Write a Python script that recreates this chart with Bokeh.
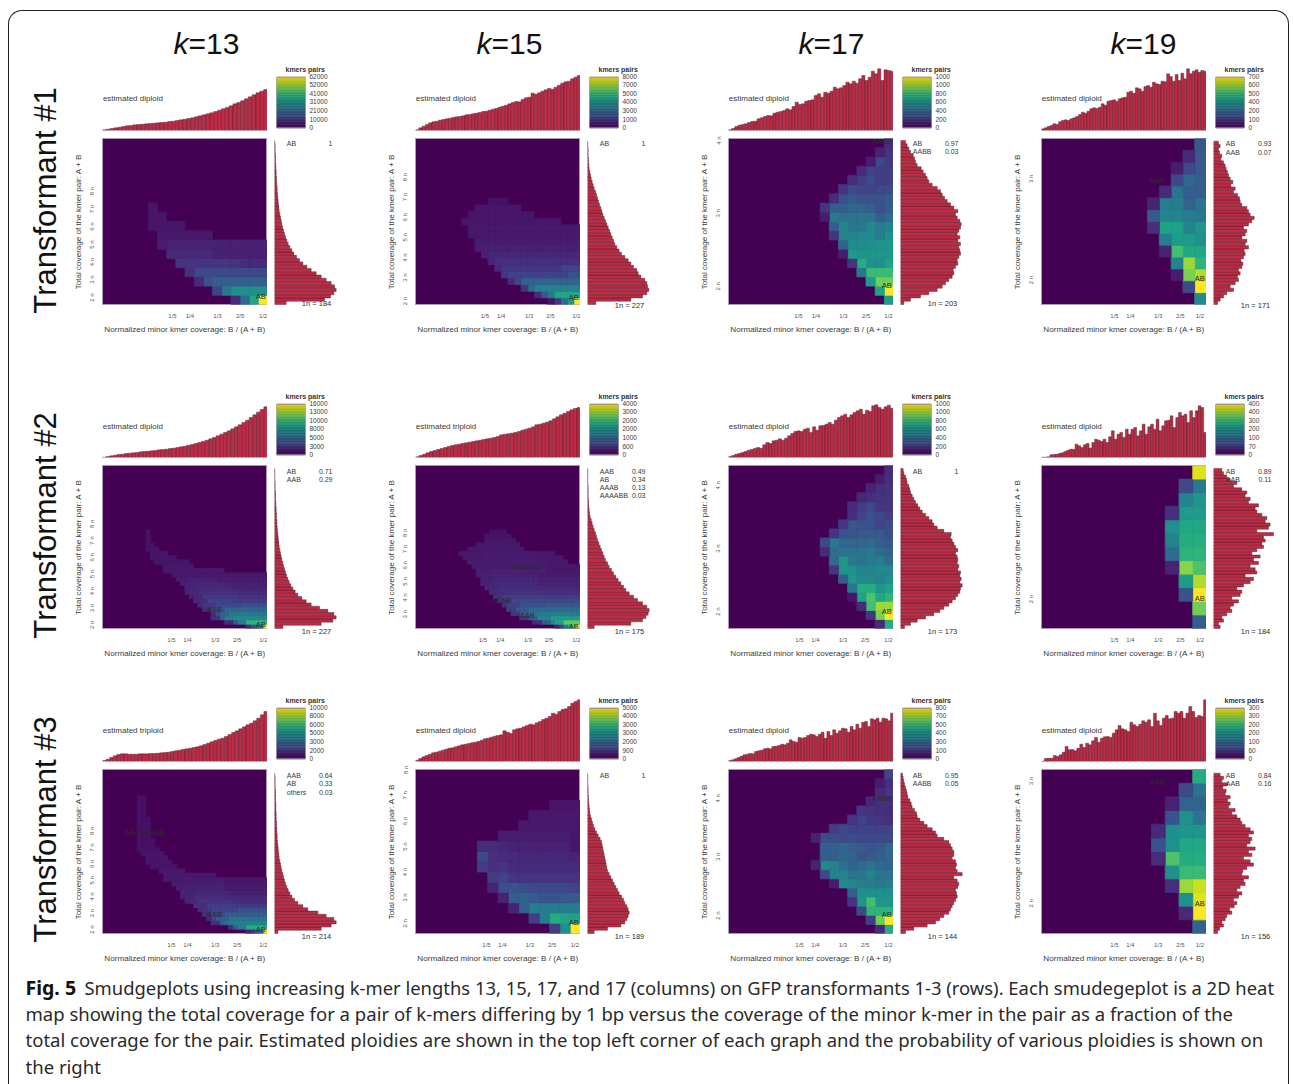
import math
from bokeh.plotting import figure
from bokeh.layouts import column, row
from bokeh.embed import file_html
from bokeh.resources import INLINE
from bokeh.models import FixedTicker, LinearColorMapper, ColumnDataSource, Title
from bokeh.palettes import Viridis256, viridis
from bokeh.core.properties import value
from bokeh.transform import transform

FONT = "Liberation Sans"
k_labels = ["13", "15", "17", "19"]
row_labels = ["Transformant #1", "Transformant #2", "Transformant #3"]
caption_lines = [
    "Smudgeplots using increasing k-mer lengths 13, 15, 17, and 17 (columns) on GFP transformants 1-3 (rows). Each smudegeplot is a 2D heat",
    "map showing the total coverage for a pair of k-mers differing by 1 bp versus the coverage of the minor k-mer in the pair as a fraction of the",
    "total coverage for the pair. Estimated ploidies are shown in the top left corner of each graph and the probability of various ploidies is shown on",
    "the right",
]

# ---- heat cells: each row (bottom to top) is listed from the right-hand column leftwards
heat_t1_k13 = [
    [100,60,35,12],
    [50,50,50,50,40,20],
    [30,30,30,30,30,30,25,12],
    [22]*8+[14],
    [12]*3+[15]*7,
    [9]*6+[12]*5,
    [9]*6+[10]*5+[8],
    [0]*6+[7]*6,
    [0]*9+[6]*4,
    [0]*11+[6]*2,
    [0]*12+[6],
]
heat_t1_k15 = [
    [100,55,35,15,5],
    [60,60,60,60,40,28,12],
    [45]*7+[35,15],
    [32]*9+[22,12],
    [25,25]+[20]*9+[15],
    [20]*3+[16]*9+[12],
    [14]*13+[10],
    [11]*14+[9],
    [9]*15+[8],
    [8]*16,
    [7]*17,
    [7]*17,
    [0]*3+[6]*15,
    [0]*7+[6]*10,
    [0]*9+[6]*7,
    [0]*11+[5]*3,
]
heat_t1_k17 = [
    [55],
    [100,58],
    [78,78,55],
    [68,68,68,40],
    [58,50,50,62,15],
    [52,52,52,52,55,8],
    [52,52,50,48,48,32,0],
    [50,42,48,48,45,45,15],
    [44,42,47,40,40,45,30],
    [35,30,38,38,38,38,40,8],
    [30,25,30,33,33,30,30,15],
    [28,25,25,25,28,25,13],
    [22,22,20,20,24,15],
    [18,18,22,18,13],
    [18,18,20,12],
    [17,22,8],
    [15,10],
    [14],
]
heat_t1_k19 = [
    [48],
    [100,22],
    [88,80,8],
    [65,85,45],
    [60,60,70,10],
    [50,55,55,42],
    [52,45,58,58,14],
    [40,42,45,45,28],
    [38,32,42,42,10],
    [30,30,38,12],
    [30,33,22],
    [28,22,8],
    [28,12],
    [27],
]
heat_t2_k13 = [
    [100,40,30,22,12],
    [65]*5+[42]*2+[25]+[12]*2,
    [48]*8+[42]*2+[30]+[14]*2,
    [40]*9+[32]*2+[22,12],
    [33]*10+[25]*3+[13]*2,
    [25]*6+[22]*6+[16]*3+[12],
    [18]*8+[20]*6+[12]*3,
    [15]*7+[17]*8+[12]*2+[9],
    [12]*7+[14]*9+[11]*2+[9],
    [10]*8+[12]*8+[10]*3,
    [9]*10+[11]*7+[9]*3,
    [8]*12+[10]*6+[8]*3,
    [7]*22,
    [0]*10+[7]*14,
    [0]*17+[7]*7,
    [0]*18+[6]*8,
    [0]*21+[6]*6,
    [0]*23+[6]*4,
    [0]*25+[6]*3,
    [0]*26+[5]*2,
    [0]*27+[5],
    [0]*27+[5],
    [0]*27+[5],
]
heat_t2_k15 = [
    [100,75,60,40,20,10],
    [75]*4+[58]*2+[45]+[28]*2+[12]*2,
    [55]*7+[45]*3+[30]*2+[14]*2,
    [42]*9+[38]*3+[28]*2+[16]*2,
    [35]*12+[28]*3+[18]*2,
    [28]*8+[25]*6+[20]*3+[14],
    [22]*16+[16]*3,
    [18]*18+[14]*2,
    [14]*9+[15]*9+[13]*3,
    [12]*10+[13]*9+[11]*3,
    [10]*10+[12]*10+[10]*3,
    [9]*10+[11]*10+[9]*3,
    [8]*10+[10]*10+[9]*4,
    [7]*8+[9]*13+[8]*3,
    [7]*8+[8]*17,
    [0]*3+[7]*5+[8]*18,
    [0]*4+[7]*6+[8]*13+[7]*4,
    [0]*6+[7]*5+[8]*12+[7]*5,
    [0]*13+[7]*13,
    [0]*14+[7]*10,
    [0]*15+[7]*7,
    [0]*16+[6]*6,
    [0]*17+[5]*4,
]
heat_t2_k17 = [
    [62,12],
    [100,80,15],
    [85,85,70,12],
    [65,60,72,58,6],
    [58,52,62,62,40],
    [50,45,48,48,52,30],
    [47,48,45,45,50,53,15],
    [35,42,42,38,40,52,35],
    [32,35,40,38,38,38,36,12],
    [27,30,35,33,33,33,40,22],
    [24,28,28,28,26,25,15],
    [22,20,25,25,28,16],
    [18,22,25,20,13],
    [15,16,22,18,12],
    [15,15,14,11],
    [15,14,10],
    [14,8],
    [12],
]
heat_t2_k19 = [
    [30],
    [78],
    [100,25],
    [88,55],
    [72,82,10],
    [65,65,35],
    [62,62,45],
    [60,60,50],
    [55,55,14],
    [52,45],
    [40,22],
    [95],
]
heat_t3_k13 = [
    [100,35,28,14,10],
    [62]*5+[42]*2+[30,14],
    [45]*8+[40]*2+[32]+[14]*2,
    [38]*9+[30]*3+[20,12],
    [30]*10+[22]*3+[13]*2,
    [25]*7+[20]*6+[15]*2+[12],
    [17]*8+[18]*6+[13]*3,
    [13]*8+[15]*8+[12]*2+[9],
    [11]*9+[13]*8+[10]*2+[9],
    [9]*9+[11]*8+[10]*3,
    [8]*10+[10]*8+[9]*3,
    [7]*10+[9]*9+[8]*3,
    [6]*10+[8]*10+[7]*4,
    [0]*12+[7]*12,
    [0]*19+[7]*6,
    [0]*21+[6]*6,
    [0]*22+[6]*6,
    [0]*23+[6]*5,
    [0]*24+[6]*5,
    [0]*25+[5]*5,
    [0]*26+[5]*4,
    [0]*26+[5]*4,
    [0]*27+[5]*3,
    [0]*27+[5]*3,
    [0]*27+[5]*3,
    [0]*27+[5]*3,
    [0]*27+[5]*3,
    [0]*28+[5]*2,
    [0]*28+[5]*2,
    [0]*28+[5]*2,
    [0]*28+[5]*2,
    [0]*28+[5]*2,
]
heat_t3_k15 = [
    [100,50,18],
    [58,58,62,42,18],
    [42,42,42,42,42,30,10],
    [28,28,26,26,28,32,30,10],
    [20,22,22,22,22,24,25,24,10],
    [15,15,15,15,15,15,15,20,18],
    [12,12,12,12,12,12,12,15,14,18],
    [10,11,11,11,11,11,12,12,14,22],
    [6,9,9,9,9,10,10,11,13,13],
    [6,8,8,8,8,8,8,8],
    [7,7,7,7,7,7],
    [7,7,7,7,7],
    [6,6,6],
]
heat_t3_k17 = [
    [62,12],
    [100,78,18],
    [65,65,65,22],
    [52,52,70,52,15],
    [50,50,50,50,30],
    [42,40,42,42,46,48,8],
    [38,38,45,38,38,45,45,22],
    [32,35,38,35,32,36,45,48,10],
    [33,30,28,26,32,33,30,30],
    [33,28,26,28,30,33,30,30],
    [22,22,22,22,24,22,24,24,9],
    [20,20,20,20,20,22,18],
    [14,16,16,20,16],
    [13,14,15,16],
    [14,14,11],
    [16,12],
    [14,8],
    [20],
]
heat_t3_k19 = [
    [32],
    [100,12],
    [95,50],
    [92,85,14],
    [68,68,50],
    [62,62,72,13],
    [60,60,50,25],
    [52,52,50,12],
    [38,50,25],
    [32,32,10],
    [38,22],
    [62],
]

# ---- histogram above each heat map, left to right
top_t1_k13 = [2,4,6,8,10,12,14,15,17,18,19,20,21,22,23,24,25,27,28,30,32,34,36,38,41,44,47,50,53,57,61,65,69,74,80,84,89,95,101,107,113,118,123]
top_t1_k15 = [2,8,13,18,23,26,28,31,33,35,37,39,41,42,44,47,48,50,52,54,57,58,61,64,66,70,73,76,80,84,87,86,93,98,100,112,109,113,118,122,126,124,130,136,142,146,148,155,160,165]
top_t1_k17 = [2,6,12,16,18,20,24,27,28,35,38,42,45,44,52,55,57,60,65,62,72,85,78,80,88,90,92,105,110,100,115,112,118,130,125,128,135,145,140,148,142,155,165,150,160,178,170,185,150,182,180,178]
top_t1_k19 = [5,8,12,15,20,18,26,30,32,30,35,38,42,48,55,52,58,65,68,66,70,80,76,88,90,92,88,95,98,100,115,118,112,128,125,118,132,135,130,145,140,138,148,146,170,162,148,168,150,172,155,185,170,178,182,175,180,178]
top_t2_k13 = [1,3,5,7,9,10,12,13,14,15,17,18,19,20,21,23,24,25,27,28,30,32,34,37,39,42,45,48,52,56,60,65,70,75,80,86,92,98,105,112,120,128,136,144,152]
top_t2_k15 = [2,6,10,14,18,21,24,27,30,33,36,38,40,42,44,46,48,50,52,54,56,58,60,63,68,70,71,73,75,78,82,85,88,92,98,100,103,106,110,116,122,128,133,138,143,147,150]
top_t2_k17 = [3,6,10,12,15,18,22,24,27,30,28,38,45,42,50,52,56,52,58,65,72,78,80,78,85,88,75,92,82,95,96,100,105,100,112,120,125,130,120,128,135,140,145,130,142,138,155,158,150,145,152,157,148]
top_t2_k19 = [1,1,2,8,9,10,12,14,18,22,25,24,40,35,30,38,42,28,45,55,52,48,55,45,62,80,55,70,75,60,85,70,85,90,65,80,100,70,92,100,85,115,80,95,110,112,125,90,120,135,125,130,105,140,120,140,155,150,75]
top_t3_k13 = [3,7,12,17,21,23,23,22,22,22,23,23,23,24,24,25,26,27,28,30,32,34,36,38,40,42,44,47,51,55,59,63,67,70,75,81,87,92,98,104,110,115,122,130,140,150]
top_t3_k15 = [4,9,14,18,22,26,28,31,34,37,40,41,44,47,50,52,54,56,58,60,64,68,70,73,76,78,80,92,88,84,95,98,100,104,108,112,110,116,120,126,130,135,145,142,150,156,158,165,175,180,185]
top_t3_k17 = [3,5,8,12,16,20,22,24,23,30,32,34,38,40,38,45,46,48,52,50,55,65,60,58,72,70,72,78,82,80,75,82,88,70,90,78,95,85,92,100,98,88,105,95,112,100,118,120,105,128,125,130,118,130,128,122,145]
top_t3_k19 = [1,9,10,10,18,15,20,28,45,35,36,32,40,52,42,55,50,62,72,58,70,74,75,72,85,95,108,98,95,90,118,110,105,112,122,118,125,105,145,122,108,130,138,128,130,150,145,150,130,145,165,150,132,138,135,185]

# ---- histogram right of each heat map, bottom to top
side_t1_k13 = [35,150,168,178,185,180,170,155,140,125,110,97,85,75,66,58,52,46,41,37,33,30,27,24,22,20,18,16,14,13,12,11,10,9,8,8,7,6,6,5,5,4,4,3,3,3,2,2,2,1]
side_t1_k15 = [25,130,165,178,184,180,178,172,160,152,148,138,130,122,112,102,95,88,82,78,74,70,66,62,58,54,50,46,43,40,36,33,30,27,24,20,17,14,11,9,7,5,4,3,3,2,2,2,1,1]
side_t1_k17 = [10,30,60,85,110,125,135,145,155,160,158,165,172,170,175,180,178,175,180,172,178,170,175,180,182,178,170,165,172,160,150,140,132,125,120,110,95,85,80,75,68,62,50,45,42,38,30,25,20,15]
side_t1_k19 = [12,20,30,40,60,50,65,75,72,80,75,85,88,82,90,95,92,105,95,100,85,95,100,90,105,115,122,110,105,100,85,80,78,72,60,65,52,58,50,45,42,38,35,30,22,25,18,15,20,15]
side_t2_k13 = [25,140,175,185,178,160,135,110,95,82,70,62,55,49,44,40,36,33,30,27,25,22,20,18,16,14,13,12,11,10,9,8,7,7,6,6,5,5,4,4,3,3,3,2,2,2,1,1,1,1]
side_t2_k15 = [20,130,165,175,182,185,178,165,150,138,125,115,108,100,92,85,78,72,65,60,54,50,46,42,38,34,30,27,24,20,17,14,11,8,6,5,4,3,3,2,2,2,2,1,1,1,1,1]
side_t2_k17 = [12,30,50,75,100,118,130,145,155,165,172,178,180,185,178,182,178,180,172,175,170,172,170,165,172,165,160,155,150,152,130,110,100,95,85,75,65,58,52,45,40,35,30,28,25,20,18,15,10,8]
side_t2_k19 = [20,15,30,25,40,55,50,60,75,55,80,85,70,90,110,120,95,130,125,110,135,120,140,115,130,150,145,155,150,180,130,165,170,155,160,145,130,125,135,105,110,95,100,85,60,70,50,40,30,25]
side_t3_k13 = [10,140,170,185,178,155,130,100,85,70,60,52,46,41,37,33,30,27,25,22,20,18,16,14,13,12,11,10,9,8,8,7,7,6,6,5,5,5,4,4,4,3,3,3,3,2,2,2,2,1]
side_t3_k15 = [20,60,100,112,118,122,125,122,118,112,108,102,95,90,85,80,75,70,65,60,58,56,54,52,50,48,46,44,42,38,32,27,22,18,15,12,9,7,6,5,4,3,3,2,2,2,1,1,1,1]
side_t3_k17 = [15,40,80,105,118,130,145,150,155,160,165,170,168,165,172,175,170,160,185,170,165,168,165,155,160,160,155,150,145,130,110,105,95,80,70,58,50,48,42,35,32,28,22,20,18,15,12,10,8,6]
side_t3_k19 = [12,18,30,25,35,40,55,48,62,70,60,75,85,70,80,95,90,105,85,88,100,120,110,90,115,105,125,100,110,115,105,120,110,95,85,80,70,55,65,45,50,42,50,35,38,28,42,25,30,20]

# ---- colour-bar labels, top to bottom
bar_t1 = [["62000","52000","41000","31000","21000","10000","0"],["8000","7000","5000","4000","3000","1000","0"],
          ["1000","1000","800","600","400","200","0"],["700","600","500","400","200","100","0"]]
bar_t2 = [["16000","13000","10000","8000","5000","3000","0"],["4000","3000","2000","2000","1000","600","0"],
          ["1000","1000","800","600","400","200","0"],["400","400","300","200","100","70","0"]]
bar_t3 = [["10000","8000","6000","5000","3000","2000","0"],["5000","4000","3000","3000","2000","900","0"],
          ["800","700","500","400","300","100","0"],["300","300","200","200","100","60","0"]]

ploidy = [["diploid"]*4, ["diploid","triploid","diploid","diploid"], ["triploid","diploid","diploid","diploid"]]
one_n = [[184,227,203,171],[227,175,173,184],[214,189,144,156]]
probs = [
    [[("AB","1")],[("AB","1")],[("AB","0.97"),("AABB","0.03")],[("AB","0.93"),("AAB","0.07")]],
    [[("AB","0.71"),("AAB","0.29")],[("AAB","0.49"),("AB","0.34"),("AAAB","0.13"),("AAAABB","0.03")],[("AB","1")],[("AB","0.89"),("AAB","0.11")]],
    [[("AAB","0.64"),("AB","0.33"),("others","0.03")],[("AB","1")],[("AB","0.95"),("AABB","0.05")],[("AB","0.84"),("AAB","0.16")]],
]
x_tick_labels = ["1/5","1/4","1/3","2/5","1/2"]

heats = [[heat_t1_k13,heat_t1_k15,heat_t1_k17,heat_t1_k19],[heat_t2_k13,heat_t2_k15,heat_t2_k17,heat_t2_k19],[heat_t3_k13,heat_t3_k15,heat_t3_k17,heat_t3_k19]]
tops = [[top_t1_k13,top_t1_k15,top_t1_k17,top_t1_k19],[top_t2_k13,top_t2_k15,top_t2_k17,top_t2_k19],[top_t3_k13,top_t3_k15,top_t3_k17,top_t3_k19]]
sides = [[side_t1_k13,side_t1_k15,side_t1_k17,side_t1_k19],[side_t2_k13,side_t2_k15,side_t2_k17,side_t2_k19],[side_t3_k13,side_t3_k15,side_t3_k17,side_t3_k19]]
bars = [bar_t1, bar_t2, bar_t3]

# ---- layout/styling (positions below are in zoomed reference units, three per screen pixel)
grid_size = [[18,25,18,14],[38,38,18,12],[38,16,18,12]]
row_count = [[18,25,18,14],[38,38,18,12],[38,16,18,12]]
panel_top = [[227,225,227,225],[224,224,224,224],[222,222,222,222]]
panel_bot = [[728,720,728,720],[716,716,716,716],[716,716,716,716]]
x_ticks = [[[305,357,440,508,577],[303,352,436,500,582],[305,357,440,508,575],[314,362,445,512,570]],
           [[302,350,433,499,586],[297,349,432,495,583],[308,356,438,505,575],[314,362,445,512,570]],
           [[302,350,433,499,586],[308,356,438,505,573],[308,356,438,505,575],[314,362,445,512,570]]]
y_ticks = [[[707,653,600,547,493,440,386],[710,640,580,520,460,400,340],[673,453,233],[647,345]],
           [[705,654,603,552,501,451,400],[None,673,623,574,525,476,427],[665,475,284],[627]],
           [[704,655,605,556,506,457,407],[685,608,531,454,377,300,223],[662,485,309],[625,257]]]
heat_text = [[[("AB",570,705)],[("AB",570,700)],[("AABB",555,235),("AB",570,672)],[("AAB",440,350),("AB",570,643)]],
             [[("AAB",430,660),("AB",570,703)],[("AAAABB",428,531),("AAAB",350,630),("AAB",430,677),("AB",570,710)],[("AB",570,665)],[("AB",570,625)]],
             [[("AAAAAAAB",220,413),("AAB",430,660),("AB",570,703)],[("AB",570,683)],[("AABB",555,308),("AB",570,658)],[("AAB",443,260),("AB",570,625)]]]
hist_zero = [205, 200, 200]
frame_h = [166, 163, 164]
gap_above = [0, 51, 31]

BG = "#440154"
RED = "#bd2c46"
EDGE = "#3c1a22"
TXT = "#3a3a3a"
mapper = LinearColorMapper(palette=Viridis256, low=0, high=100)


def dim(hex_color, f=0.86):
    rgb = [int(hex_color[k:k + 2], 16) for k in (1, 3, 5)]
    return "#%02x%02x%02x" % tuple(int(c * f) for c in rgb)


band_colors = [dim(c) for c in viridis(32)]


def base(w, h, l=0, r=0, t=0, b=0, xr=(0, 1), yr=(0, 1), **kw):
    p = figure(width=w, height=h, x_range=xr, y_range=yr, toolbar_location=None, output_backend="svg",
               min_border_left=l, min_border_right=r, min_border_top=t, min_border_bottom=b,
               x_axis_location=kw.pop("xloc", None), y_axis_location=kw.pop("yloc", None), **kw)
    p.frame_align = False
    p.grid.visible = False
    p.outline_line_color = None
    p.background_fill_color = None
    p.border_fill_color = None
    return p


def put(p, x, y, s, size, color=TXT, align="left", style="normal", angle=0, font=FONT):
    p.text(x=[x], y=[y], text=[s], text_font=value(font), text_font_size=size, text_color=color,
           text_align=align, text_baseline="middle", text_font_style=style, angle=angle)


def top_panel(i, j):
    vals = tops[i][j]
    n = len(vals)
    p = base(197, 74, l=32, t=4, b=4, xr=(-0.5, n - 0.5), yr=(0, 198))
    p.vbar(x=list(range(n)), top=vals, bottom=0, width=1.0, fill_color=RED, line_color=EDGE, line_width=0.4)
    put(p, -0.4, hist_zero[i] - 108, "estimated " + ploidy[i][j], "8px")
    return p


def bar_panel(i, j):
    labels = bars[i][j]
    p = base(116, 74, l=9, r=78, t=15, b=5, xr=(0, 1), yr=(-5, 155), yloc="right")
    h = 150 / len(band_colors)
    p.quad(left=0, right=1, bottom=[k * h for k in range(32)], top=[(k + 1) * h for k in range(32)],
           fill_color=band_colors, line_color=band_colors, line_width=0.6)
    p.quad(left=[0], right=[1], bottom=[0], top=[150], fill_color=None, line_color="#8f8599", line_width=1)
    positions = [153, 128, 102, 77, 52, 26, 0]
    ax = p.yaxis[0]
    ax.ticker = FixedTicker(ticks=positions)
    ax.major_label_overrides = {t: s for t, s in zip(positions, labels)}
    ax.axis_line_color = None
    ax.major_tick_line_color = None
    ax.minor_tick_line_color = None
    ax.major_tick_out = 0
    ax.major_tick_in = 0
    ax.major_label_text_font = FONT
    ax.major_label_text_font_size = "6.5px"
    ax.major_label_text_color = TXT
    ax.major_label_text_align = "center"
    ax.major_label_standoff = 4
    p.title = Title(text="kmers pairs", align="left", offset=9, text_font=FONT, text_font_size="7px",
                    text_font_style="bold", text_color="#333333", standoff=5)
    return p


def heat_panel(i, j):
    top_z, bot_z = panel_top[i][j], panel_bot[i][j]
    H = bot_z - top_z
    cols, nrows = grid_size[i][j], row_count[i][j]
    cw, ch = 495 / cols, H / nrows
    xs0, xs1, ys0, ys1, vs = [], [], [], [], []
    for r, cells in enumerate(heats[i][j]):
        for c, v in enumerate(cells):
            if v > 0:
                xs1.append(495 - c * cw); xs0.append(495 - (c + 1) * cw)
                ys0.append(r * ch); ys1.append(min(H, (r + 1) * ch)); vs.append(v)
    src = ColumnDataSource(dict(l=xs0, r=xs1, b=ys0, t=ys1, v=vs))
    p = base(197, frame_h[i] + 36, l=32, t=4, b=32, xr=(0, 495), yr=(0, H), xloc="below", yloc="left")
    p.background_fill_color = BG
    p.outline_line_color = "#a99bb8"
    p.outline_line_width = 1
    p.quad(left="l", right="r", bottom="b", top="t", source=src, fill_color=transform("v", mapper),
           line_color=transform("v", mapper), line_width=0.8)
    for s, zx, zy in heat_text[i][j]:
        put(p, zx - 95, bot_z - zy, s, "7.5px", color="#2c2c2c", align="center")
    xt = [z - 95 for z in x_ticks[i][j]]
    yz = y_ticks[i][j]
    yt = [bot_z - z for z in yz if z is not None]
    yl = [f"{k + 2} n" for k, z in enumerate(yz) if z is not None]
    xa, ya = p.xaxis[0], p.yaxis[0]
    xa.ticker = FixedTicker(ticks=xt)
    xa.major_label_overrides = {t: s for t, s in zip(xt, x_tick_labels)}
    ya.ticker = FixedTicker(ticks=yt)
    ya.major_label_overrides = {t: s for t, s in zip(yt, yl)}
    ya.major_label_orientation = "vertical"
    xa.axis_label = "Normalized minor kmer coverage: B / (A + B)"
    ya.axis_label = "Total coverage of the kmer pair: A + B"
    for ax, s1, s2 in ((xa, 8, 3), (ya, 7, 4)):
        ax.axis_line_color = None
        ax.major_tick_line_color = None
        ax.minor_tick_line_color = None
        ax.major_tick_out = 0
        ax.major_tick_in = 0
        ax.major_label_text_font = FONT
        ax.major_label_text_font_size = "6px"
        ax.major_label_text_color = "#555555"
        ax.major_label_standoff = s1
        ax.axis_label_text_font = FONT
        ax.axis_label_text_font_style = "normal"
        ax.axis_label_text_font_size = "8.1px"
        ax.axis_label_text_color = TXT
        ax.axis_label_standoff = s2
    return p


def side_panel(i, j):
    top_z, bot_z = panel_top[i][j], panel_bot[i][j]
    H = bot_z - top_z
    vals = sides[i][j]
    n = len(vals)
    h = (bot_z - 233) / n
    # the frame runs a little below the heat map so the "1n" note stays whole
    p = base(116, frame_h[i] + 36, l=7, r=43, t=4, b=26, xr=(0, 198), yr=(-18, H))
    p.hbar(y=[(k + 0.5) * h for k in range(n)], right=vals, left=0, height=h, fill_color=RED, line_color=EDGE, line_width=0.4)
    for k, (name, val) in enumerate(probs[i][j]):
        y = bot_z - (241 + k * 24.5)
        put(p, 37, y, name, "7px")
        put(p, 174, y, val, "7px", align="right")
    put(p, 82, bot_z - 724, f"1n =  {one_n[i][j]}", "7.5px", color="#2c2c2c")
    return p


def panel(i, j):
    return column(row(top_panel(i, j), bar_panel(i, j)), row(heat_panel(i, j), side_panel(i, j)))


# header with the k= titles
header = base(1279, 49, xr=(9, 1288), yr=(60, 11))
for s, xp in zip(k_labels, [188, 491, 813, 1125]):
    put(header, xp, 43, "k", "30px", color="#111111", align="right", style="italic")
    put(header, xp, 43, "=" + s, "30px", color="#111111")

blocks = [header]
centers = [140, 138, 138]
for i in range(3):
    hh = 74 + frame_h[i] + 36
    lab = base(61, hh, xr=(9, 70), yr=(hh, 0))
    put(lab, 45, centers[i], row_labels[i], "31px", color="#111111", align="center", angle=math.pi / 2)
    blocks.append(row([lab] + [panel(i, j) for j in range(4)], margin=(gap_above[i], 0, 0, 0)))

# caption
cap = base(1279, 118, xr=(9, 1288), yr=(1083, 965))
put(cap, 25, 987, "Fig. 5", "19.5px", color="#111111", style="bold", font="Noto Sans")
put(cap, 84, 987, caption_lines[0], "18.4px", color="#2a2a2a", font="Noto Sans")
for y, line in zip([1013, 1039, 1066], caption_lines[1:]):
    put(cap, 25, y, line, "18.55px", color="#2a2a2a", font="Noto Sans")
blocks.append(cap)

page = column(*blocks, width=1281, height=1074, margin=(10, 0, 0, 8),
              styles={"border-width": "1px 1px 0 1px", "border-style": "solid", "border-color": "#222222",
                      "border-radius": "14px 14px 0 0", "box-sizing": "border-box", "background": "#ffffff"})

open("out.html", "w").write(file_html(page, INLINE))
